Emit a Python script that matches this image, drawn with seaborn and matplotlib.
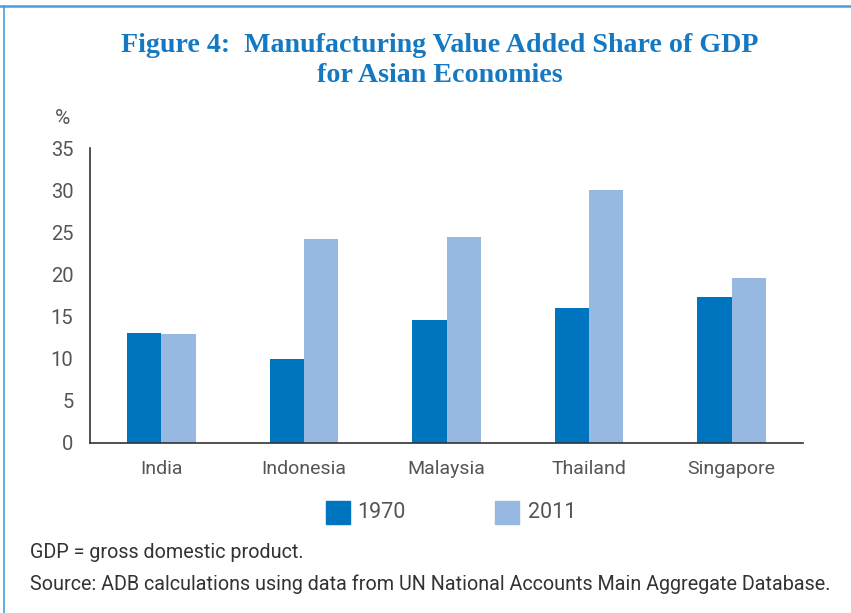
import matplotlib
matplotlib.use("Agg")
import matplotlib.pyplot as plt
import seaborn as sns
import pandas as pd
from matplotlib.patches import Rectangle
from matplotlib.lines import Line2D

countries = ["India", "Indonesia", "Malaysia", "Thailand", "Singapore"]
share_1970 = [13.0, 10.0, 14.6, 16.0, 17.3]
share_2011 = [12.9, 24.2, 24.4, 30.0, 19.6]
years = ["1970", "2011"]
yticks = [0, 5, 10, 15, 20, 25, 30, 35]

df = pd.DataFrame({
    "country": countries * 2,
    "year": [years[0]] * len(countries) + [years[1]] * len(countries),
    "value": share_1970 + share_2011,
})

sns.set_theme(style="white")
plt.rcParams["font.family"] = ["Roboto", "DejaVu Sans"]

c1970 = "#0075BF"
c2011 = "#97B8E0"
axis_c = "#333333"
text_c = "#555555"

W, H = 851, 613
fig = plt.figure(figsize=(W / 100, H / 100), dpi=100)
ax = fig.add_axes([90 / W, 1 - 443 / H, (803 - 90) / W, (443 - 148) / H])

sns.barplot(data=df, x="country", y="value", hue="year", order=countries,
            hue_order=years, palette=[c1970, c2011], width=0.48, gap=0,
            saturation=1, ax=ax, legend=False, linewidth=0, edgecolor="none")

ax.set_xlim(-0.5, len(countries) - 0.5)
ax.set_ylim(0, 35)
ax.set_yticks(yticks)
ax.set_yticklabels([str(t) for t in yticks], fontsize=14.5, color=text_c)
ax.set_xticks(range(len(countries)))
ax.set_xticklabels(countries, fontsize=14, color=text_c)
ax.set_xticks([i - 0.5 for i in range(len(countries) + 1)], minor=True)
ax.tick_params(axis="x", which="major", length=0, pad=12)
ax.tick_params(axis="x", which="minor", length=6, width=1.2, color=axis_c, direction="out")
ax.tick_params(axis="y", which="major", length=6, width=1.2, color=axis_c, direction="out", pad=6)
ax.set_xlabel("")
ax.set_ylabel("")
for s in ["top", "right"]:
    ax.spines[s].set_visible(False)
for s in ["left", "bottom"]:
    ax.spines[s].set_color(axis_c)
    ax.spines[s].set_linewidth(1.2)
ax.grid(False)

fig.text(62 / W, 1 - 119 / H, "%", fontsize=15, color=text_c, ha="center", va="center")

title_kw = dict(fontsize=20.2, fontweight="bold", color="#1479C2", ha="center",
                va="center", family=["Liberation Serif"])
fig.text(440 / W, 1 - 45 / H, "Figure 4:  Manufacturing Value Added Share of GDP", **title_kw)
fig.text(440 / W, 1 - 76 / H, "for Asian Economies", **title_kw)

# legend
fig.patches.append(Rectangle((326 / W, 1 - 524 / H), 24 / W, 23 / H,
                             transform=fig.transFigure, color=c1970, figure=fig))
fig.text(357 / W, 1 - 512 / H, years[0], fontsize=15.5, color=text_c, va="center", ha="left")
fig.patches.append(Rectangle((495 / W, 1 - 524 / H), 24 / W, 23 / H,
                             transform=fig.transFigure, color=c2011, figure=fig))
fig.text(528 / W, 1 - 512 / H, years[1], fontsize=15.5, color=text_c, va="center", ha="left")

t1 = fig.text(30 / W, 1 - 552 / H, "GDP = gross domestic product.", fontsize=13.5,
              color="#333333", va="center", ha="left")
t2 = fig.text(30 / W, 1 - 584 / H,
              "Source: ADB calculations using data from UN National Accounts Main Aggregate Database.",
              fontsize=13.5, color="#333333", va="center", ha="left")
fig.canvas.draw()
r = fig.canvas.get_renderer()
w2 = t2.get_window_extent(r).width
fs = 13.5 * 800 / w2
t2.set_fontsize(fs)
t1.set_fontsize(fs)

# frame lines
fig.add_artist(Line2D([0, 1], [1 - 5.5 / H, 1 - 5.5 / H], transform=fig.transFigure,
                      color="#4A9FD8", linewidth=1.8))
fig.add_artist(Line2D([3.5 / W, 3.5 / W], [0, 1 - 5.5 / H], transform=fig.transFigure,
                      color="#4A9FD8", linewidth=1.2))

fig.savefig("out.png", dpi=100)
